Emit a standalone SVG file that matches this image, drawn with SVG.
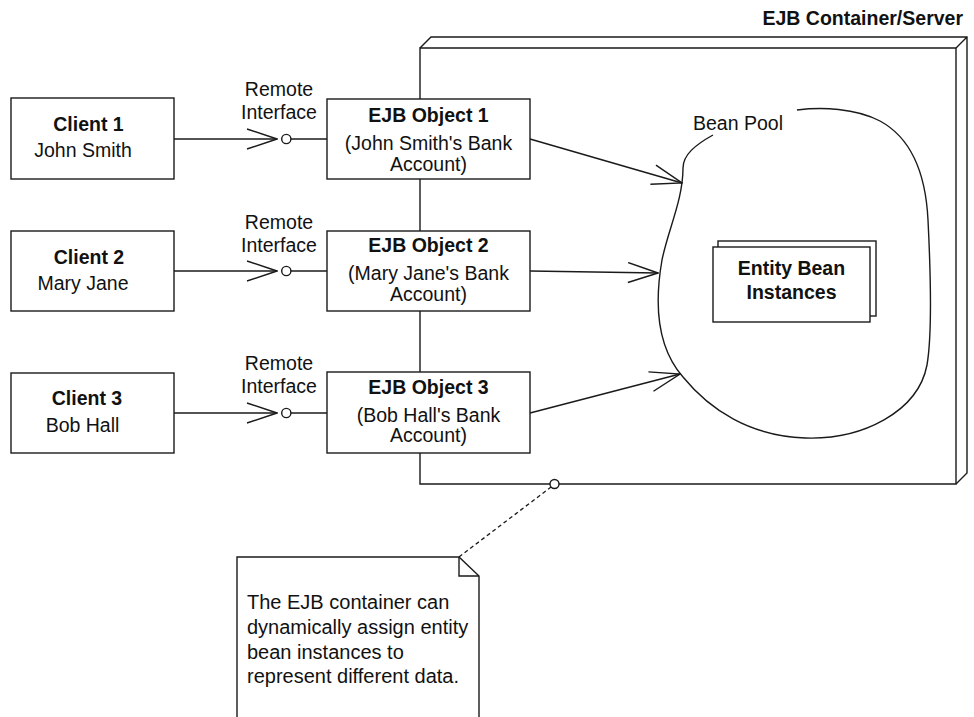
<svg xmlns="http://www.w3.org/2000/svg" width="974" height="717" viewBox="0 0 974 717">
<style>
.ln{fill:none;stroke:#1a1a1a;stroke-width:1.4}
.bx{fill:#fff;stroke:#1a1a1a;stroke-width:1.4}
.t{font-family:"Liberation Sans",Arial,sans-serif;font-size:19.5px;fill:#111}
.n{font-size:20px}
.b{font-weight:bold}
.c{text-anchor:middle}
</style>
<defs>
<marker id="open" viewBox="0 0 32 22" refX="31" refY="11" markerWidth="32" markerHeight="22" markerUnits="userSpaceOnUse" orient="auto">
<path d="M1,1 L31,11 L1,21" fill="none" stroke="#1a1a1a" stroke-width="1.4"/>
</marker>
</defs>
<rect width="974" height="717" fill="#fff"/>

<g id="container">
<path class="ln" d="M420,484 L420,48 L956,48 L956,484 Z"/>
<path class="ln" d="M420,48 L431,37 L967,37 L967,473 L956,484 M956,48 L967,37"/>
<text class="t b" x="963" y="25" text-anchor="end">EJB Container/Server</text>
</g>

<g id="bean-pool">
<path class="ln" d="M713,135 C695,145 683,155 683,168 C683,200 668,230 662,260 C655,300 655,345 683,377 C710,410 750,436 805,438 C862,440 918,412 927,365 C933,330 930,260 928,220 C926,180 915,140 880,121 C855,108 822,107 797,110"/>
<text class="t" x="693" y="130">Bean Pool</text>
</g>

<g id="entity-bean-instances">
<rect class="bx" x="718" y="241" width="158" height="75"/>
<rect class="bx" x="713" y="247" width="157" height="75"/>
<text class="t b c" x="791.5" y="275">Entity Bean</text>
<text class="t b c" x="791.5" y="299">Instances</text>
</g>

<g id="connectors">
<line class="ln" x1="174" y1="139" x2="277" y2="139" marker-end="url(#open)"/>
<circle class="ln" cx="286.3" cy="139" r="4.6"/>
<line class="ln" x1="290.9" y1="139" x2="327" y2="139"/>
<line class="ln" x1="174" y1="271" x2="277" y2="271" marker-end="url(#open)"/>
<circle class="ln" cx="286.3" cy="271" r="4.6"/>
<line class="ln" x1="290.9" y1="271" x2="327" y2="271"/>
<line class="ln" x1="174" y1="413" x2="277" y2="413" marker-end="url(#open)"/>
<circle class="ln" cx="286.3" cy="413" r="4.6"/>
<line class="ln" x1="290.9" y1="413" x2="327" y2="413"/>
<line class="ln" x1="530" y1="139" x2="682" y2="183" marker-end="url(#open)"/>
<line class="ln" x1="530" y1="271" x2="658" y2="273" marker-end="url(#open)"/>
<line class="ln" x1="530" y1="413" x2="680" y2="374" marker-end="url(#open)"/>
<line x1="459" y1="557" x2="551" y2="487" fill="none" stroke="#1a1a1a" stroke-width="1.3" stroke-dasharray="4,3"/>
<circle class="bx" cx="554.5" cy="484" r="4.5"/>
<text class="t c" x="279" y="96">Remote</text>
<text class="t c" x="279" y="119">Interface</text>
<text class="t c" x="279" y="229">Remote</text>
<text class="t c" x="279" y="252">Interface</text>
<text class="t c" x="279" y="370">Remote</text>
<text class="t c" x="279" y="393">Interface</text>
</g>

<g id="client1">
<rect class="bx" x="11" y="98" width="163" height="81"/>
<text class="t b c" x="88.5" y="131">Client 1</text>
<text class="t c" x="83" y="157">John Smith</text>
</g>
<g id="client2">
<rect class="bx" x="11" y="231" width="163" height="80"/>
<text class="t b c" x="89" y="264">Client 2</text>
<text class="t c" x="83" y="290">Mary Jane</text>
</g>
<g id="client3">
<rect class="bx" x="11" y="373" width="163" height="80"/>
<text class="t b c" x="87" y="405">Client 3</text>
<text class="t c" x="82.5" y="432">Bob Hall</text>
</g>

<g id="ejb-object1">
<rect class="bx" x="327" y="99" width="203" height="80"/>
<text class="t b c" x="428.5" y="122">EJB Object 1</text>
<text class="t c" x="428.5" y="150">(John Smith's Bank</text>
<text class="t c" x="428.5" y="171">Account)</text>
</g>
<g id="ejb-object2">
<rect class="bx" x="327" y="231" width="203" height="80"/>
<text class="t b c" x="428.5" y="252">EJB Object 2</text>
<text class="t c" x="428.5" y="280">(Mary Jane's Bank</text>
<text class="t c" x="428.5" y="301">Account)</text>
</g>
<g id="ejb-object3">
<rect class="bx" x="327" y="372" width="203" height="81"/>
<text class="t b c" x="428.5" y="394">EJB Object 3</text>
<text class="t c" x="428.5" y="422">(Bob Hall's Bank</text>
<text class="t c" x="428.5" y="442">Account)</text>
</g>

<g id="note">
<path class="bx" d="M237,717 L237,557 L459,557 L479,576 L479,717"/>
<path class="ln" d="M459,557 L459,576 L479,576"/>
<text class="t n" x="247" y="609">The EJB container can</text>
<text class="t n" x="247" y="634">dynamically assign entity</text>
<text class="t n" x="247" y="659">bean instances to</text>
<text class="t n" x="247" y="683">represent different data.</text>
</g>
</svg>
